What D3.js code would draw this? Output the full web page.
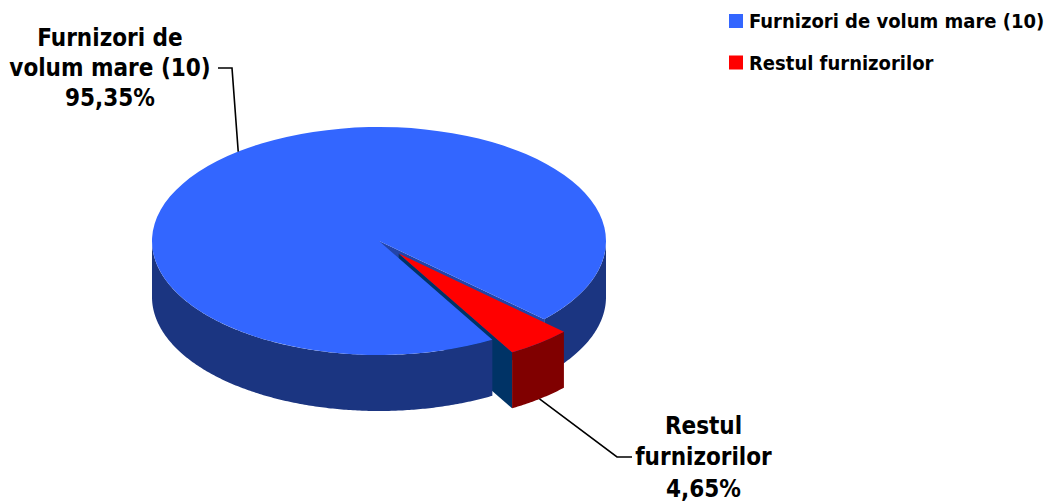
<!DOCTYPE html>
<html>
<head>
<meta charset="utf-8">
<script src="https://cdn.jsdelivr.net/npm/d3@7"></script>
<style>
  html, body { margin: 0; padding: 0; background: #fff; }
  svg { display: block; }
  text {
    font-family: "DejaVu Sans Condensed", "DejaVu Sans", sans-serif;
    font-stretch: condensed;
    font-weight: bold;
    fill: #000;
  }
</style>
</head>
<body>
<svg id="chart" width="1047" height="502"></svg>
<script>
// Market share of suppliers
const categories = ["Furnizori de volum mare (10)", "Restul furnizorilor"];
const values = [95.35, 4.65];
const labelNames = [["Furnizori de", "volum mare (10)"], ["Restul", "furnizorilor"]];

// Shading: top, outer wall, cut face
const topColors = ["#3366FF", "#FF0000"];
const wallColors = ["#1B3581", "#800000"];
const faceColors = ["#2344A8", "#003366"];
const explodeFrac = [0, 0.14];

const cx = 379, cy = 241, rx = 227, ry = 114, depth = 56;
const startDeg = 150.04;

const svg = d3.select("#chart");
const comma = d3.formatLocale({decimal: ",", thousands: ".", grouping: [3], currency: ["", ""]}).format(".2f");

const pie = d3.pie().sort(null).value(d => d)
  .startAngle(startDeg * Math.PI / 180)
  .endAngle(startDeg * Math.PI / 180 + 2 * Math.PI);
const slices = pie(values).map((s, i) => {
  const mid = (s.startAngle + s.endAngle) / 2;
  return Object.assign(s, {
    i, mid,
    ox: explodeFrac[i] * rx * Math.sin(mid),
    oy: -explodeFrac[i] * ry * Math.cos(mid)
  });
});

// point on the top rim (dz = 0) or bottom rim (dz = depth)
function rim(s, a, dz) {
  return [cx + s.ox + rx * Math.sin(a), cy + s.oy - ry * Math.cos(a) + dz];
}
function center(s, dz) { return [cx + s.ox, cy + s.oy + dz]; }

// front-facing parts of a slice's outer wall
function frontRanges(a0, a1) {
  const out = [];
  for (let k = -1; k <= 2; k++) {
    const lo = Math.max(a0, Math.PI / 2 + 2 * Math.PI * k);
    const hi = Math.min(a1, 3 * Math.PI / 2 + 2 * Math.PI * k);
    if (hi > lo) out.push([lo, hi]);
  }
  return out;
}

const line = d3.line();
function wallPath(s, lo, hi) {
  const n = Math.max(4, Math.ceil((hi - lo) / 0.01));
  const top = d3.range(n + 1).map(j => rim(s, lo + (hi - lo) * j / n, 0));
  const bot = top.map(p => [p[0], p[1] + depth]).reverse();
  return line(top.concat(bot)) + "Z";
}
function facePath(s, a) {
  return line([center(s, 0), rim(s, a, 0), rim(s, a, depth), center(s, depth)]) + "Z";
}
// a cut face is visible when its outward normal points toward the viewer
function faceVisible(a, isEnd) {
  const ny = isEnd ? Math.sin(a) : -Math.sin(a);
  return ny > 1e-6;
}

const arc = d3.arc().innerRadius(0).outerRadius(rx);
const g = svg.append("g");

// cut faces first, they sit deepest inside the solid
const faces = g.append("g").attr("class", "faces");
slices.forEach(s => {
  [[s.startAngle, false], [s.endAngle, true]].forEach(([a, isEnd]) => {
    if (faceVisible(a, isEnd)) {
      faces.append("path").attr("d", facePath(s, a)).attr("fill", faceColors[s.i]);
    }
  });
});

// walls and tops, exploded slices last
slices.slice().sort((a, b) => explodeFrac[a.i] - explodeFrac[b.i]).forEach(s => {
  const sg = g.append("g").attr("class", "slice");
  frontRanges(s.startAngle, s.endAngle).forEach(([lo, hi]) => {
    sg.append("path").attr("d", wallPath(s, lo, hi)).attr("fill", wallColors[s.i]);
  });
  sg.append("g")
    .attr("transform", `translate(${cx + s.ox},${cy + s.oy}) scale(1,${ry / rx})`)
    .append("path").attr("d", arc(s)).attr("fill", topColors[s.i]);
});

// data labels with leader lines
const labelPos = [
  {x: 110, y: [45.7, 75.7, 106], bend: [[232, 68], [218, 68]], dz: 0},
  {x: 703.5, y: [434.3, 465, 496.7], bend: [[617, 457], [632, 457]], dz: depth}
];
slices.forEach(s => {
  const lp = labelPos[s.i];
  const start = rim(s, s.mid, lp.dz);
  g.append("path")
    .attr("d", line([start].concat(lp.bend)))
    .attr("fill", "none").attr("stroke", "#000").attr("stroke-width", 1.6);
  const lines = labelNames[s.i].concat([comma(values[s.i]) + "%"]);
  lines.forEach((t, j) => {
    g.append("text").attr("x", lp.x).attr("y", lp.y[j])
      .attr("text-anchor", "middle").attr("font-size", 24).text(t);
  });
});

// legend
const legend = svg.append("g").attr("transform", "translate(729,14)");
categories.forEach((c, i) => {
  const row = legend.append("g").attr("transform", `translate(0,${i * 41.5})`);
  row.append("rect").attr("width", 14).attr("height", 14).attr("fill", topColors[i]);
  row.append("text").attr("x", 20).attr("y", 14.3).attr("font-size", 20).text(c);
});
</script>
</body>
</html>
